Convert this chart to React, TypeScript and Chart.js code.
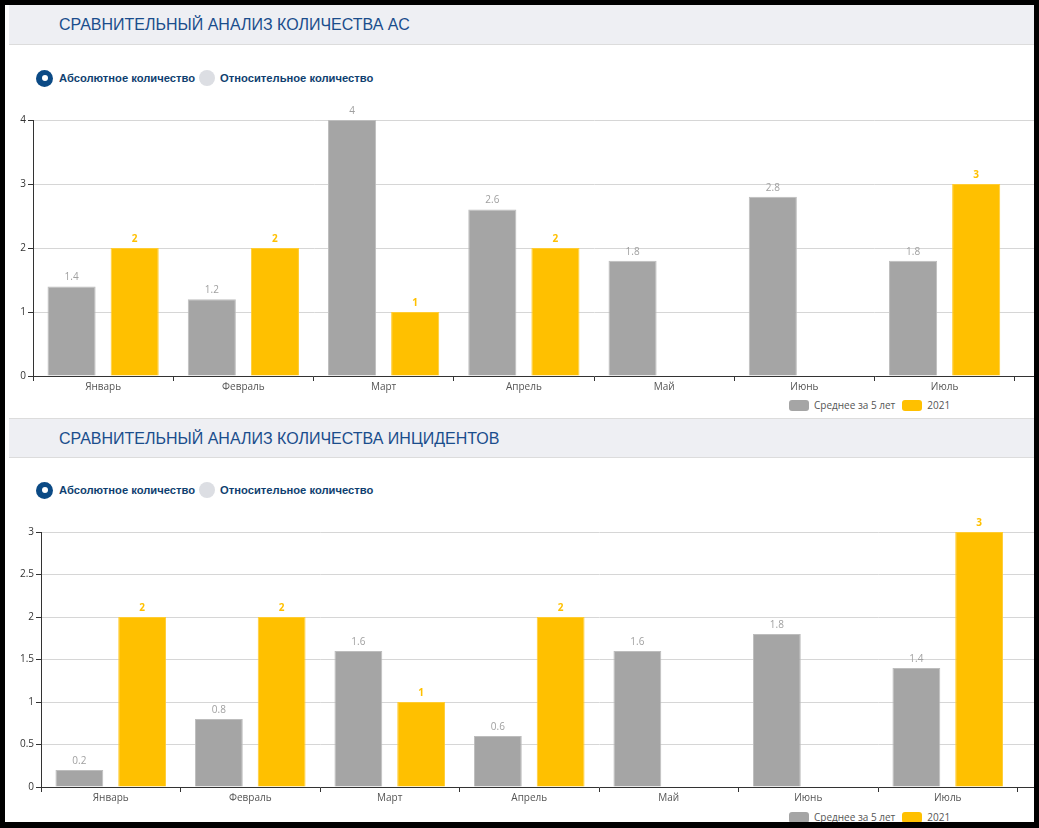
import React, { useEffect, useRef } from "react";
import Chart from "chart.js/auto";

const MONTHS = ["Январь", "Февраль", "Март", "Апрель", "Май", "Июнь", "Июль"];
const LEGEND_AVG = "Среднее за 5 лет";
const LEGEND_CUR = "2021";

const AS_AVG = [1.4, 1.2, 4, 2.6, 1.8, 2.8, 1.8];
const AS_CUR = [2, 2, 1, 2, null, null, 3];
const AS_TICKS = [0, 1, 2, 3, 4];

const INC_AVG = [0.2, 0.8, 1.6, 0.6, 1.6, 1.8, 1.4];
const INC_CUR = [2, 2, 1, 2, null, null, 3];
const INC_TICKS = [0, 0.5, 1, 1.5, 2, 2.5, 3];

const TITLE_AS = "СРАВНИТЕЛЬНЫЙ АНАЛИЗ КОЛИЧЕСТВА АС";
const TITLE_INC = "СРАВНИТЕЛЬНЫЙ АНАЛИЗ КОЛИЧЕСТВА ИНЦИДЕНТОВ";
const RADIO_ABS = "Абсолютное количество";
const RADIO_REL = "Относительное количество";

const GRAY = "#a5a5a5";
const YELLOW = "#ffc000";
const AXIS_FONT = "'Open Sans', 'DejaVu Sans', sans-serif";

const valueLabels = {
  id: "valueLabels",
  afterDatasetsDraw(chart: any) {
    const ctx = chart.ctx;
    chart.data.datasets.forEach((ds: any, i: number) => {
      const meta = chart.getDatasetMeta(i);
      meta.data.forEach((el: any, j: number) => {
        const v = ds.data[j];
        if (v === null || v === undefined) return;
        ctx.save();
        ctx.font = i === 0 ? `10px ${AXIS_FONT}` : `bold 10px ${AXIS_FONT}`;
        ctx.fillStyle = i === 0 ? "#a0a0a0" : YELLOW;
        ctx.textAlign = "center";
        ctx.textBaseline = "middle";
        ctx.fillText(String(v), el.x, el.y - 9);
        ctx.restore();
      });
    });
  },
};

type ChartProps = {
  avg: (number | null)[];
  cur: (number | null)[];
  ticks: number[];
  yWidth: number;
  width: number;
  height: number;
};

function BarChart({ avg, cur, ticks, yWidth, width, height }: ChartProps) {
  const ref = useRef<HTMLCanvasElement | null>(null);
  useEffect(() => {
    if (!ref.current) return;
    const yMax = ticks[ticks.length - 1];
    const step = ticks[1] - ticks[0];
    const chart = new Chart(ref.current, {
      type: "bar",
      data: {
        labels: [...MONTHS, ""],
        datasets: [
          {
            label: LEGEND_AVG,
            data: avg,
            backgroundColor: GRAY,
            borderColor: "#bdbdbd",
            borderWidth: 1,
            categoryPercentage: 0.9,
            barPercentage: 0.762,
          },
          {
            label: LEGEND_CUR,
            data: cur,
            backgroundColor: YELLOW,
            borderColor: "#ffcc33",
            borderWidth: 1,
            categoryPercentage: 0.9,
            barPercentage: 0.762,
          },
        ],
      },
      options: {
        responsive: false,
        maintainAspectRatio: false,
        animation: false,
        layout: { padding: { top: 20, left: 0, right: 0, bottom: 0 } },
        plugins: { legend: { display: false }, tooltip: { enabled: false } },
        scales: {
          x: {
            grid: {
              drawOnChartArea: false,
              offset: true,
              tickLength: 5,
              tickColor: "#333",
            },
            border: { color: "#333" },
            ticks: {
              color: "#555",
              font: { family: AXIS_FONT, size: 10 },
              padding: 0,
              maxRotation: 0,
              autoSkip: false,
            },
            afterFit: (s: any) => {
              s.height = 20;
            },
          },
          y: {
            min: 0,
            max: yMax,
            ticks: {
              stepSize: step,
              color: "#333",
              font: { family: AXIS_FONT, size: 10 },
              padding: 2,
              callback: (v: any) => String(v),
            },
            grid: { color: "#d6d6d6", tickLength: 5, tickColor: "#333" },
            border: { color: "#333" },
            afterFit: (s: any) => {
              s.width = yWidth;
            },
          },
        },
      } as any,
      plugins: [valueLabels],
    });
    return () => chart.destroy();
  }, []);
  return <canvas ref={ref} width={width} height={height} style={{ display: "block" }} />;
}

function Header({ top, title }: { top: number; title: string }) {
  return (
    <div
      style={{
        position: "absolute",
        left: 9,
        top,
        width: 1025,
        height: 40,
        background: "#eeeff3",
        borderBottom: "1px solid #dcdcdc",
        borderTop: top > 10 ? "1px solid #dcdcdc" : "none",
        boxSizing: "border-box",
      }}
    >
      <div
        style={{
          position: "absolute",
          left: 50,
          top: 0,
          height: 40,
          lineHeight: "40px",
          fontFamily: "'Liberation Sans', Arial, sans-serif",
          fontSize: 16,
          color: "#1a4d8c",
          whiteSpace: "nowrap",
        }}
      >
        {title}
      </div>
    </div>
  );
}

function Radios({ top }: { top: number }) {
  const label: React.CSSProperties = {
    fontFamily: "'Liberation Sans', Arial, sans-serif",
    fontSize: 11.2,
    fontWeight: "bold",
    color: "#0f3f70",
    whiteSpace: "nowrap",
  };
  return (
    <div style={{ position: "absolute", left: 36, top: top - 9, height: 18, display: "flex", alignItems: "center" }}>
      <div
        style={{
          width: 17,
          height: 17,
          borderRadius: "50%",
          background: "#0b4a85",
          display: "flex",
          alignItems: "center",
          justifyContent: "center",
        }}
      >
        <div style={{ width: 6, height: 6, borderRadius: "50%", background: "#fff" }} />
      </div>
      <span style={{ ...label, marginLeft: 6 }}>{RADIO_ABS}</span>
      <div style={{ width: 16, height: 16, borderRadius: "50%", background: "#dcdee3", marginLeft: 4 }} />
      <span style={{ ...label, marginLeft: 5 }}>{RADIO_REL}</span>
    </div>
  );
}

function Legend({ top, left }: { top: number; left: number }) {
  const txt: React.CSSProperties = {
    fontFamily: AXIS_FONT,
    fontSize: 10,
    color: "#555",
    whiteSpace: "nowrap",
  };
  return (
    <div style={{ position: "absolute", left, top: top - 6, height: 12, display: "flex", alignItems: "center" }}>
      <div style={{ width: 20, height: 11, borderRadius: 3, background: GRAY }} />
      <span style={{ ...txt, marginLeft: 5 }}>{LEGEND_AVG}</span>
      <div style={{ width: 20, height: 11, borderRadius: 3, background: YELLOW, marginLeft: 7 }} />
      <span style={{ ...txt, marginLeft: 5 }}>{LEGEND_CUR}</span>
    </div>
  );
}

export default function App() {
  return (
    <div
      style={{
        position: "fixed",
        left: 0,
        top: 0,
        width: 1039,
        height: 828,
        background: "#000",
        overflow: "hidden",
      }}
    >
      <div style={{ position: "absolute", left: 5, top: 5, width: 1029, height: 817, background: "#fff" }} />
      <Header top={5} title={TITLE_AS} />
      <Radios top={78} />
      <div style={{ position: "absolute", left: 5, top: 100, width: 1029, height: 296, overflow: "hidden" }}>
        <BarChart avg={AS_AVG} cur={AS_CUR} ticks={AS_TICKS} yWidth={28} width={1150} height={296} />
      </div>
      <Legend top={405} left={789} />
      <Header top={418} title={TITLE_INC} />
      <Radios top={490} />
      <div style={{ position: "absolute", left: 5, top: 512, width: 1029, height: 295, overflow: "hidden" }}>
        <BarChart avg={INC_AVG} cur={INC_CUR} ticks={INC_TICKS} yWidth={36} width={1152} height={295} />
      </div>
      <div style={{ position: "absolute", left: 0, top: 807, width: 1034, height: 15, overflow: "hidden" }}>
        <div style={{ position: "absolute", left: 0, top: -807, width: 1034, height: 828 }}>
          <Legend top={817} left={789} />
        </div>
      </div>
    </div>
  );
}
